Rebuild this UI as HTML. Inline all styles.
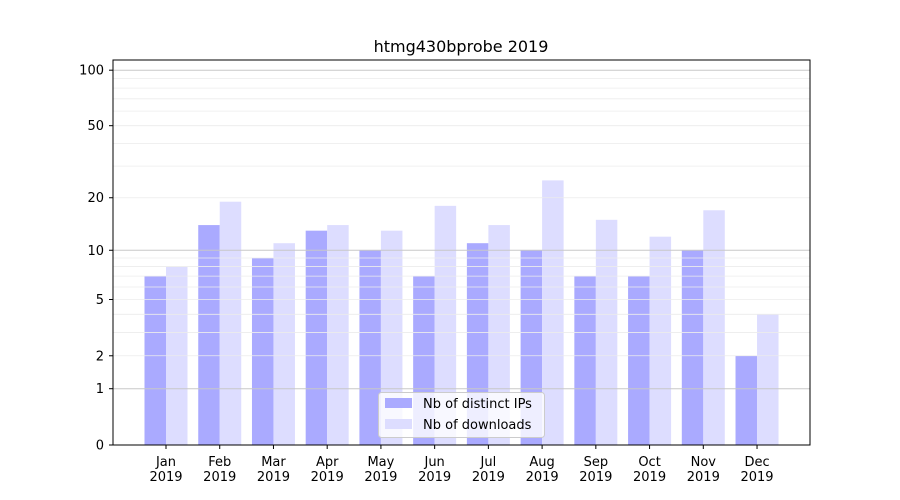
<!DOCTYPE html>
<html><head><style>body{margin:0;background:#fff}svg{display:block}text{font-family:"DejaVu Sans","Liberation Sans",sans-serif;font-size:13px;fill:#000}</style></head>
<body>
<svg width="900" height="500" viewBox="0 0 900 500" xmlns="http://www.w3.org/2000/svg">
<rect width="900" height="500" fill="#fff"/>
<text x="461" y="52" text-anchor="middle" style="font-size:16px">htmg430bprobe 2019</text>
<g id="bars"></g>
<g id="grid"></g>
<rect x="113" y="60" width="697" height="385" fill="none" stroke="#000" stroke-width="1"/>
<g id="yt"></g>
<g id="xt"></g>
<g>
<rect x="378.5" y="392.5" width="166" height="45" rx="3" fill="#fff" fill-opacity="0.8" stroke="#ccc"/>
<rect x="385" y="398" width="27" height="10" fill="#aaaaff"/>
<rect x="385" y="419" width="27" height="10" fill="#ddddff"/>
<text x="423" y="408">Nb of distinct IPs</text>
<text x="423" y="429">Nb of downloads</text>
</g>
<script>
const ns="http://www.w3.org/2000/svg";
function Y(v){return 445-187*Math.log10(1+v);}
function el(p,t,a,txt){const e=document.createElementNS(ns,t);for(const k in a)e.setAttribute(k,a[k]);if(txt!==undefined)e.textContent=txt;document.getElementById(p).appendChild(e);}
const ips=[7,14,9,13,10,7,11,10,7,7,10,2],dl=[8,19,11,14,13,18,14,25,15,12,17,4];
const m=["Jan","Feb","Mar","Apr","May","Jun","Jul","Aug","Sep","Oct","Nov","Dec"];
for(let i=0;i<12;i++){const c=166+i*53.73;
el("bars","rect",{x:c-21.5,y:Y(ips[i]),width:21.5,height:445-Y(ips[i]),fill:"#aaaaff"});
el("bars","rect",{x:c,y:Y(dl[i]),width:21.5,height:445-Y(dl[i]),fill:"#ddddff"});
el("xt","line",{x1:c,x2:c,y1:445,y2:449,stroke:"#000"});
el("xt","text",{x:c,y:466,"text-anchor":"middle"},m[i]);
el("xt","text",{x:c,y:481,"text-anchor":"middle"},"2019");}
for(const d of [1,10]){for(let k=2;k<=9;k++){const y=Y(k*d);el("grid","line",{x1:113,x2:810,y1:y,y2:y,stroke:"#ececec","stroke-width":0.8});}}
for(const v of [1,10,100]){const y=Y(v);el("grid","line",{x1:113,x2:810,y1:y,y2:y,stroke:"#c8c8c8","stroke-width":1});}
for(const v of [0,1,2,5,10,20,50,100]){const y=Y(v);el("yt","line",{x1:109,x2:113,y1:y,y2:y,stroke:"#000"});el("yt","text",{x:104,y:y+4.5,"text-anchor":"end"},String(v));}
</script>
</svg>
</body></html>
